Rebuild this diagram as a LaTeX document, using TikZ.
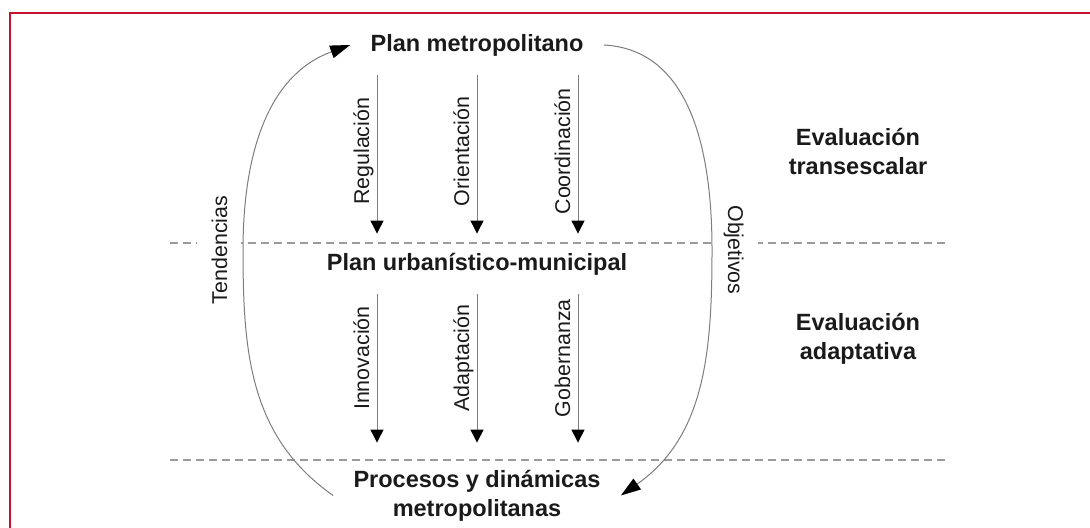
\documentclass[tikz,border=0pt]{standalone}
\usepackage{fontspec}
\setmainfont{Liberation Sans}
\usepackage{tikz}
\usetikzlibrary{arrows.meta, positioning}
\definecolor{framered}{RGB}{196,18,48}
\definecolor{linegray}{RGB}{125,125,125}
\definecolor{dashgray}{RGB}{155,155,155}
\definecolor{inkblack}{RGB}{26,26,26}

\begin{document}
\begin{tikzpicture}[x=0.5pt, y=0.5pt,
    planbox/.style={inner xsep=10pt, inner ysep=0pt, minimum height=30pt, align=center, text=inkblack, font=\fontsize{11.75}{14.5}\selectfont\bfseries},
    evalbox/.style={align=center, text=inkblack, font=\fontsize{11.75}{14.5}\selectfont\bfseries},
    rotlabel/.style={anchor=south, text depth=0pt, inner sep=3.75pt, text=inkblack, font=\fontsize{10.7}{12}\selectfont},
    flowarrow/.style={draw=linegray, line width=0.5pt, -{Triangle[length=6.5pt, width=6.5pt, color=black, fill=black]}},
    cycleline/.style={draw=linegray, line width=0.5pt, -{Triangle[length=10pt, width=6.5pt, color=black, fill=black]}},
    sepline/.style={draw=dashgray, line width=0.7pt, dash pattern=on 4pt off 2.5pt},
    framerule/.style={draw=framered, line width=1pt}
]
    \useasboundingbox (0,0) rectangle (1090,528);
    \draw [framerule] (10,0) -- (10,515) -- (1090,515);

    % Levels
    \draw [sepline] (170,285) -- (945,285);
    \draw [sepline] (170,68) -- (945,68);

    % Nodes
    \node (metro) [planbox] at (477,483) {Plan metropolitano};
    \node (urban) [planbox] at (477,264) {Plan urbanístico-municipal};
    \node (procesos) [planbox, minimum height=52.5pt] at (477,32.5) {Procesos y dinámicas\\metropolitanas};
    \node (transes) [evalbox] at (858,376.5) {Evaluación\\transescalar};
    \node (adapt) [evalbox] at (858,189.5) {Evaluación\\adaptativa};
    \coordinate (tendmid) at (243,278);
    \coordinate (objmid) at (712,278);

    % Arrows with text
    \draw [flowarrow] ([xshift=-50pt]metro.south) -- node[rotlabel, rotate=90, pos=0.48] {Regulación} ([xshift=-50pt]urban.north);
    \draw [flowarrow] (metro.south) -- node[rotlabel, rotate=90, pos=0.48] {Orientación} (urban.north);
    \draw [flowarrow] ([xshift=50.5pt]metro.south) -- node[rotlabel, rotate=90, pos=0.48] {Coordinación} ([xshift=50.5pt]urban.north);
    \draw [flowarrow] ([xshift=-50pt]urban.south) -- node[rotlabel, rotate=90, pos=0.43] {Innovación} ([xshift=-50pt]procesos.north);
    \draw [flowarrow] (urban.south) -- node[rotlabel, rotate=90, pos=0.43] {Adaptación} (procesos.north);
    \draw [flowarrow] ([xshift=50.5pt]urban.south) -- node[rotlabel, rotate=90, pos=0.43] {Gobernanza} ([xshift=50.5pt]procesos.north);

    % Feedback loops
    \draw [cycleline] (procesos.west) to[out=145, in=-90] (tendmid) node[rotlabel, rotate=90, fill=white, inner sep=7pt, outer sep=1pt] {Tendencias} to[out=90, in=200] (metro.west);
    \draw [cycleline] (metro.east) to[out=-3, in=90] (objmid) node[rotlabel, rotate=-90, fill=white, inner sep=7pt, outer sep=1pt] {Objetivos} to[out=-90, in=35] (procesos.east);
\end{tikzpicture}
\end{document}
